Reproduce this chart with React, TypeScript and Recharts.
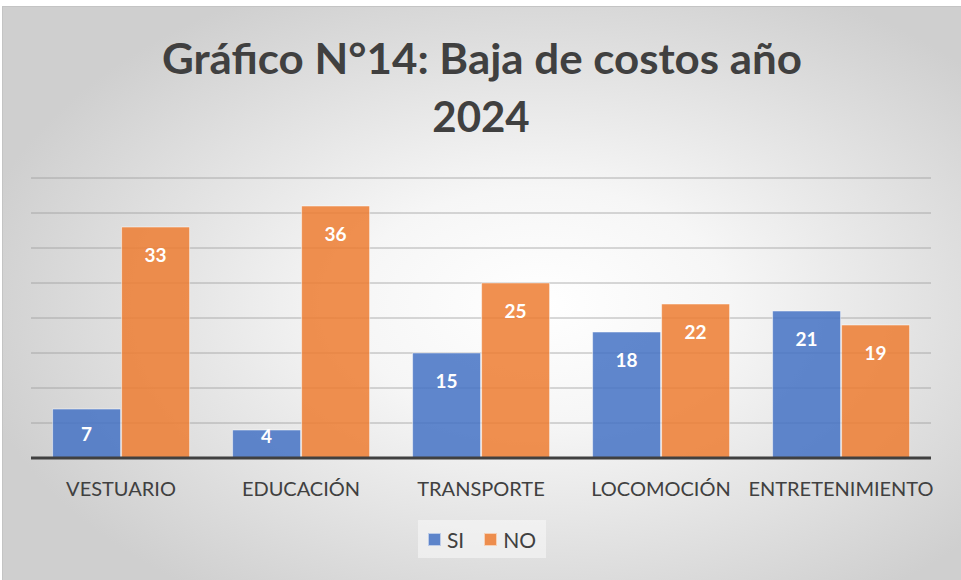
import React from 'react';
import { BarChart, Bar, XAxis, YAxis, CartesianGrid, Legend, LabelList } from 'recharts';

const categories = ['VESTUARIO', 'EDUCACIÓN', 'TRANSPORTE', 'LOCOMOCIÓN', 'ENTRETENIMIENTO'];
const siValues = [7, 4, 15, 18, 21];
const noValues = [33, 36, 25, 22, 19];
const yTicks = [0, 5, 10, 15, 20, 25, 30, 35, 40];
const seriesOrder = ['SI', 'NO'];

const chartData = categories.map((name, i) => ({ name, SI: siValues[i], NO: noValues[i] }));

const FONT = 'Lato, "Open Sans", sans-serif';
const TEXT = '#404040';

// Excel-style "inside end" label, centred when the bar is short
const BarLabel = (props: any) => {
  const { x, y, width, height, value } = props;
  const off = height >= 54 ? 27 : height >= 40 ? height / 2 : 5;
  return (
    <text
      x={x + width / 2}
      y={y + off}
      textAnchor="middle"
      dominantBaseline="central"
      fill="#fff"
      fontFamily={FONT}
      fontWeight={700}
      fontSize={19}
    >
      {value}
    </text>
  );
};

const LegendBox = (props: any) => {
  const items = [...(props.payload || [])].sort(
    (a: any, b: any) => seriesOrder.indexOf(a.value) - seriesOrder.indexOf(b.value)
  );
  return (
    <div
      style={{
        display: 'flex',
        alignItems: 'center',
        justifyContent: 'center',
        gap: 20,
        height: '100%',
        background: 'rgba(250,250,250,0.55)',
        fontFamily: FONT,
        fontSize: 21,
        color: TEXT,
      }}
    >
      {items.map((it: any) => (
        <div key={it.value} style={{ display: 'flex', alignItems: 'center', gap: 6 }}>
          <span
            style={{
              width: 11,
              height: 11,
              background: it.color,
              opacity: 0.85,
              border: '1px solid rgba(255,255,255,0.6)',
              display: 'inline-block',
            }}
          />
          <span>{it.value}</span>
        </div>
      ))}
    </div>
  );
};

export default function App() {
  return (
    <div style={{ position: 'absolute', left: 0, top: 0, width: 961, height: 580, background: '#fff', overflow: 'hidden' }}>
      <div
        style={{
          position: 'absolute',
          left: 2,
          top: 6,
          width: 959,
          height: 574,
          borderLeft: '1px solid #c4c4c4',
          borderTop: '1px solid #c4c4c4',
          boxSizing: 'border-box',
          background: 'radial-gradient(ellipse 60% 62% at 56% 52%, #ffffff 0%, #f6f6f6 33%, #cfcfcf 100%)',
        }}
      />
      <svg width={961} height={150} style={{ position: 'absolute', left: 0, top: 0 }}>
        <text x={482} y={74} textAnchor="middle" fontFamily={FONT} fontWeight={700} fontSize={42} fill={TEXT}
          textLength={640} lengthAdjust="spacingAndGlyphs">
          Gráfico N°14: Baja de costos año
        </text>
        <text x={481} y={132} textAnchor="middle" fontFamily={FONT} fontWeight={700} fontSize={42} fill={TEXT}>
          2024
        </text>
      </svg>
      <div style={{ position: 'absolute', left: 0, top: 0 }}>
        <BarChart
          width={961}
          height={580}
          data={chartData}
          margin={{ top: 178, right: 30, left: 31, bottom: 8 }}
          barCategoryGap="12%"
          barGap={1}
        >
          <CartesianGrid vertical={false} stroke="#9a9a9a" strokeOpacity={0.75} />
          <YAxis hide domain={[0, 40]} ticks={yTicks} />
          <XAxis
            dataKey="name"
            height={76}
            tickLine={false}
            axisLine={{ stroke: '#404040', strokeWidth: 3 }}
            tick={{ fill: TEXT, fontSize: 20, fontFamily: FONT }}
            tickMargin={18}
            interval={0}
          />
          <Legend
            verticalAlign="bottom"
            height={38}
            content={<LegendBox />}
            wrapperStyle={{ left: 418, top: 520, width: 128, height: 38, bottom: 'auto' }}
          />
          <Bar dataKey="SI" name="SI" fill="#4472C4" fillOpacity={0.85} stroke="#ffffff" strokeOpacity={0.5} isAnimationActive={false}>
            <LabelList dataKey="SI" content={<BarLabel />} />
          </Bar>
          <Bar dataKey="NO" name="NO" fill="#ED7D31" fillOpacity={0.85} stroke="#ffffff" strokeOpacity={0.5} isAnimationActive={false}>
            <LabelList dataKey="NO" content={<BarLabel />} />
          </Bar>
        </BarChart>
      </div>
    </div>
  );
}
